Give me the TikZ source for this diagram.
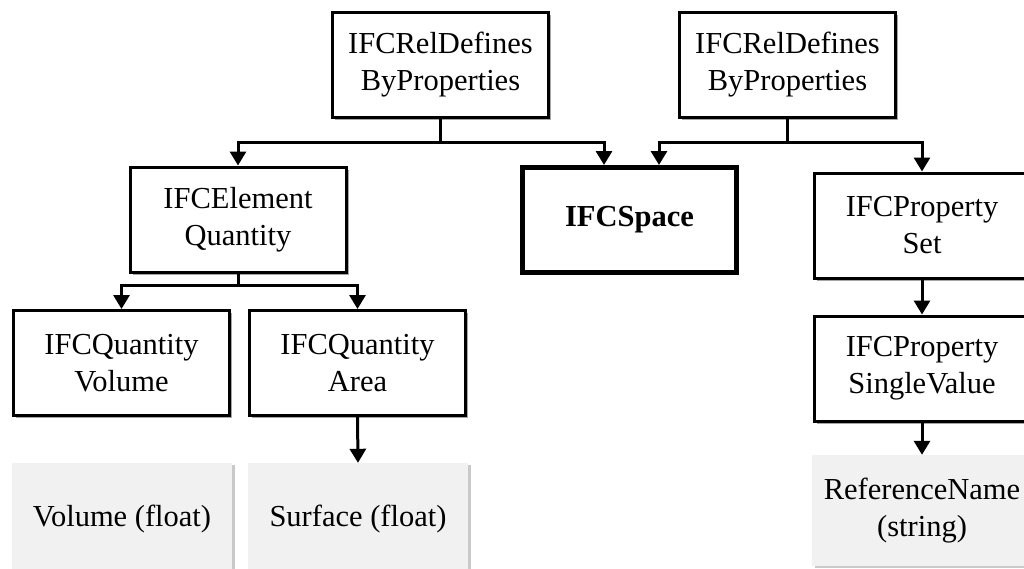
\documentclass[tikz,border=0pt]{standalone}
\usepackage{fontspec}
\setmainfont{Liberation Serif}
\usetikzlibrary{arrows.meta,shadows}
\tikzset{
  lbl/.style={font=\fontsize{30.5}{37}\selectfont, align=center, inner sep=0pt},
  box/.style={lbl, draw=black, line width=3pt, fill=white, minimum width=216pt, minimum height=105pt,
    drop shadow={shadow xshift=2.5pt, shadow yshift=-2.5pt, opacity=0.35, fill=black}},
  thickbox/.style={box, line width=5pt, minimum width=214pt, minimum height=105pt},
  valbox/.style={lbl, fill=gray!11, minimum width=220pt, minimum height=108pt,
    drop shadow={shadow xshift=3pt, shadow yshift=-2pt, opacity=0.35, fill=black!60}},
  arr/.style={line width=3pt, -{Triangle[width=16pt,length=14pt]}},
  ln/.style={line width=3pt}
}
\begin{document}
\begin{tikzpicture}[x=1pt,y=-1pt]
\useasboundingbox (0,0) rectangle (1024,568);
\clip (0,0) rectangle (1024,568);
\fill[white] (0,0) rectangle (1024,568);

\node[box] (RD1) at (440.5,65) {IFCRelDefines\\ByProperties};
\node[box] (RD2) at (787.5,65) {IFCRelDefines\\ByProperties};
\node[box] (EQ) at (238,219.5) {IFCElement\\Quantity};
\node[thickbox] (SP) at (629.5,220) {\bfseries IFCSpace};
\node[box] (PS) at (922,225.5) {IFCProperty\\Set};
\node[box] (QV) at (121.5,363) {IFCQuantity\\Volume};
\node[box] (QA) at (357.5,363) {IFCQuantity\\Area};
\node[box] (SV) at (922,368.5) {IFCProperty\\SingleValue};
\node[valbox, minimum height=112pt] (VF) at (122,519) {Volume (float)};
\node[valbox, minimum height=112pt] (SF) at (358,519) {Surface (float)};
\node[valbox, minimum height=111pt] (RN) at (922,510.5) {ReferenceName\\(string)};

\coordinate (j1) at (440.5,142);
\coordinate (j2) at (787.5,142);
\coordinate (j3) at (238,285);

\draw[ln] (RD1.south) -- (j1);
\draw[arr] (j1) -| (EQ.north);
\draw[arr] (j1) -| ([xshift=-25.5pt]SP.north);
\draw[ln] (RD2.south) -- (j2);
\draw[arr] (j2) -| ([xshift=29.5pt]SP.north);
\draw[arr] (j2) -| (PS.north);
\draw[ln] (EQ.south) -- (j3);
\draw[arr] (j3) -| (QV.north);
\draw[arr] (j3) -| (QA.north);
\draw[arr] (QA.south) -- (SF.north);
\draw[arr] (PS.south) -- (SV.north);
\draw[arr] (SV.south) -- (RN.north);
\end{tikzpicture}
\end{document}
